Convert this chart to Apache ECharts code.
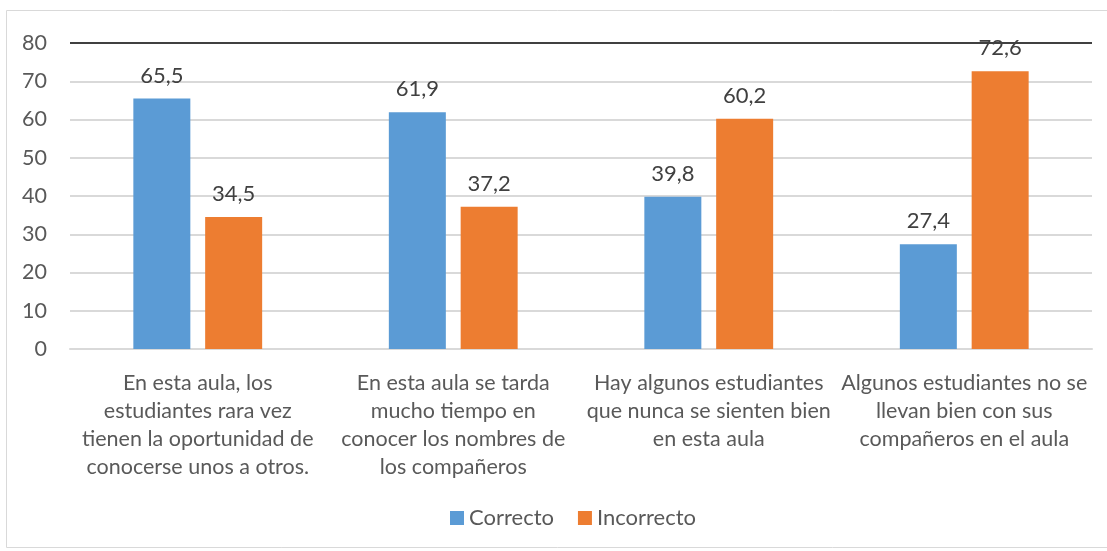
<!DOCTYPE html>
<html>
<head>
<meta charset="utf-8">
<script src="https://cdn.jsdelivr.net/npm/echarts@6/dist/echarts.min.js"></script>
<style>
  html, body { margin: 0; padding: 0; background: #fff; }
  #chart { width: 1107px; height: 551px; }
</style>
</head>
<body>
<div id="chart"></div>
<script>
// datos del gráfico
const categories = [
  'En esta aula, los\nestudiantes rara vez\ntienen la oportunidad de\nconocerse unos a otros.',
  'En esta aula se tarda\nmucho tiempo en\nconocer los nombres de\nlos compañeros',
  'Hay algunos estudiantes\nque nunca se sienten bien\nen esta aula',
  'Algunos estudiantes no se\nllevan bien con sus\ncompañeros en el aula'
];
const correcto = [65.5, 61.9, 39.8, 27.4];
const incorrecto = [34.5, 37.2, 60.2, 72.6];
const yTicks = [0, 10, 20, 30, 40, 50, 60, 70, 80];

const FONT = 'Lato';
const chart = echarts.init(document.getElementById('chart'));

const fmt = (p) => String(p.value).replace('.', ',');

const option = {
  animation: false,
  textStyle: { fontFamily: FONT },
  graphic: [{
    type: 'rect',
    shape: { x: 6.5, y: 10.5, width: 1110, height: 537 },
    style: { fill: 'none', stroke: '#d9d9d9', lineWidth: 1 },
    silent: true
  }],
  grid: { left: 70, right: 15, top: 43, bottom: 202 },
  legend: {
    bottom: 17,
    left: 445,
    itemWidth: 14,
    itemHeight: 14,
    itemGap: 24,
    icon: 'rect',
    textStyle: { fontFamily: FONT, fontSize: 22, color: '#595959' },
    data: ['Correcto', 'Incorrecto']
  },
  xAxis: {
    type: 'category',
    data: categories,
    axisLine: { lineStyle: { color: '#d9d9d9', width: 2 } },
    axisTick: { show: false },
    axisLabel: {
      interval: 0,
      margin: 20,
      lineHeight: 28,
      fontFamily: FONT,
      fontSize: 21.5,
      color: '#595959'
    }
  },
  yAxis: {
    type: 'value',
    min: yTicks[0],
    max: yTicks[yTicks.length - 1],
    interval: 10,
    axisLine: { show: false },
    axisTick: { show: false },
    axisLabel: { fontFamily: FONT, fontSize: 21.5, color: '#595959', margin: 23 },
    splitLine: { lineStyle: { color: '#d9d9d9', width: 2 } }
  },
  series: [
    {
      name: 'Correcto',
      type: 'bar',
      data: correcto,
      barWidth: 57,
      barGap: '26%',
      itemStyle: { color: '#5b9bd5' },
      label: {
        show: true, position: 'top', distance: 12,
        formatter: fmt, fontFamily: FONT, fontSize: 22, color: '#404040'
      },
      markLine: {
        silent: true,
        symbol: 'none',
        label: { show: false },
        lineStyle: { color: '#404040', width: 2, type: 'solid' },
        data: [{ yAxis: yTicks[yTicks.length - 1] }]
      }
    },
    {
      name: 'Incorrecto',
      type: 'bar',
      data: incorrecto,
      barWidth: 57,
      itemStyle: { color: '#ed7d31' },
      label: {
        show: true, position: 'top', distance: 12,
        formatter: fmt, fontFamily: FONT, fontSize: 22, color: '#404040'
      }
    }
  ]
};

chart.setOption(option);
</script>
</body>
</html>
